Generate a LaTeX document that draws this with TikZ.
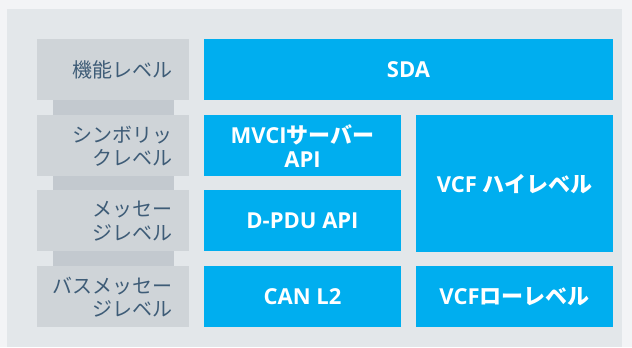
\documentclass[tikz,border=0pt]{standalone}
\usepackage{fontspec}
\setmainfont{Open Sans}
\newfontfamily\jpfont{Noto Sans CJK JP}

\definecolor{pageBg}{RGB}{243,244,246}
\definecolor{panelBg}{RGB}{227,231,234}
\definecolor{levelBox}{RGB}{207,212,216}
\definecolor{levelStrip}{RGB}{195,201,207}
\definecolor{levelText}{RGB}{62,92,119}
\definecolor{layerBlue}{RGB}{0,174,239}

\tikzset{every picture/.style={line width=0.75pt}}
\tikzset{
  levelLabel/.style={anchor=east, inner sep=0.75pt, align=right, text=levelText,
    font=\jpfont\fontsize{15}{17.5}\selectfont},
  layerLabel/.style={inner sep=0.75pt, align=center, text=white,
    font=\bfseries\fontsize{16.5}{17.5}\selectfont}
}

\begin{document}
\begin{tikzpicture}[x=0.75pt,y=0.75pt,yscale=-1,xscale=1]
\useasboundingbox (0,0) rectangle (632,347);

%Shape: Rectangle [id:page]
\fill [pageBg] (0,0) rectangle (632,347) ;
%Shape: Rectangle [id:panel]
\fill [panelBg] (7,9) rectangle (622,347) ;

%Shape: Rectangle [id:strips]
\fill [levelStrip] (53,100) rectangle (174,115) ;
\fill [levelStrip] (53,176) rectangle (174,190) ;
\fill [levelStrip] (53,251) rectangle (174,266) ;

%Shape: Rectangle [id:levelboxes]
\fill [levelBox] (37,39) rectangle (189,100) ;
\fill [levelBox] (37,115) rectangle (189,176) ;
\fill [levelBox] (37,190) rectangle (189,251) ;
\fill [levelBox] (37,266) rectangle (189,327) ;

%Shape: Rectangle [id:layerboxes]
\fill [layerBlue] (204,39) rectangle (613,100) ;
\fill [layerBlue] (204,115) rectangle (401,176) ;
\fill [layerBlue] (204,190) rectangle (401,251) ;
\fill [layerBlue] (204,266) rectangle (401,327) ;
\fill [layerBlue] (416,115) rectangle (613,252) ;
\fill [layerBlue] (416,266) rectangle (613,327) ;

% Text Node
\draw (174,70) node [levelLabel] (funcLvl) {機能レベル};
% Text Node
\draw (174,146) node [levelLabel] (symLvl) {シンボリッ\\クレベル};
% Text Node
\draw (174,221) node [levelLabel] (msgLvl) {メッセー\\ジレベル};
% Text Node
\draw (174,297) node [levelLabel] (busLvl) {バスメッセー\\ジレベル};

% Text Node
\draw (408.5,70) node [layerLabel] (sda) {SDA};
% Text Node
\draw (302.5,146) node [layerLabel] (mvci) {MVCI{\jpfont\bfseries サーバー}\\API};
% Text Node
\draw (302.5,221) node [layerLabel] (dpdu) {D-PDU API};
% Text Node
\draw (302.5,297) node [layerLabel] (canL2) {CAN L2};
% Text Node
\draw (514.5,184) node [layerLabel] (vcfHigh) {VCF {\jpfont\bfseries ハイレベル}};
% Text Node
\draw (514.5,297) node [layerLabel] (vcfLow) {VCF{\jpfont\bfseries ローレベル}};

\end{tikzpicture}
\end{document}
